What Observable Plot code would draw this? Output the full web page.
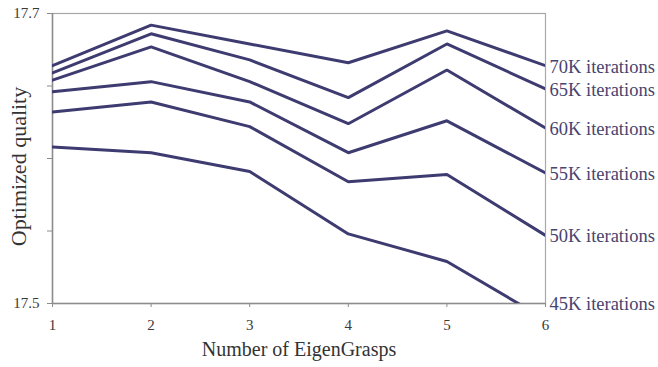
<!DOCTYPE html>
<html>
<head>
<meta charset="utf-8">
<script src="https://cdn.jsdelivr.net/npm/d3@7"></script>
<script src="https://cdn.jsdelivr.net/npm/@observablehq/plot@0.6"></script>
<style>
  html, body { margin: 0; padding: 0; background: #fff; }
</style>
</head>
<body>
<div id="chart"></div>
<script>
const eigenGrasps = [1, 2, 3, 4, 5, 6];
const seriesNames = ["70K iterations", "65K iterations", "60K iterations", "55K iterations", "50K iterations", "45K iterations"];
const q70K = [17.664, 17.692, 17.679, 17.666, 17.688, 17.664];
const q65K = [17.659, 17.686, 17.668, 17.642, 17.679, 17.648];
const q60K = [17.654, 17.677, 17.653, 17.624, 17.661, 17.621];
const q55K = [17.646, 17.653, 17.639, 17.604, 17.626, 17.590];
const q50K = [17.632, 17.639, 17.622, 17.584, 17.589, 17.547];
const q45K = [17.608, 17.604, 17.591, 17.548, 17.529, 17.489];
const yTicks = [17.5, 17.55, 17.6, 17.65, 17.7];
const yTickLabels = [17.5, 17.7];
const xTicks = [1, 2, 3, 4, 5, 6];

const allSeries = [q70K, q65K, q60K, q55K, q50K, q45K];
const data = [];
allSeries.forEach((vals, i) => vals.forEach((v, j) => data.push({x: eigenGrasps[j], y: v, s: seriesNames[i]})));
const yMin = 17.5, yMax = 17.7;
const ends = allSeries.map((vals, i) => ({x: eigenGrasps[eigenGrasps.length - 1], y: Math.max(vals[vals.length - 1], yMin), s: seriesNames[i]}));

const chart = Plot.plot({
  width: 658,
  height: 367,
  marginLeft: 52,
  marginRight: 113,
  marginTop: 13,
  marginBottom: 64,
  style: {fontFamily: "'Liberation Serif', 'Times New Roman', serif", fontSize: "15px", color: "#333", background: "#fff"},
  x: {domain: [1, 6]},
  y: {domain: [yMin, yMax]},
  marks: [
    Plot.frame({stroke: "#a8a8a8", strokeWidth: 1.2}),
    Plot.ruleX([1], {stroke: "#8c8c8c", strokeWidth: 1.5}),
    Plot.ruleY([yMin], {stroke: "#8c8c8c", strokeWidth: 1.5}),
    Plot.axisY({ticks: yTicks, tickSize: 5, tickPadding: 8, stroke: "#8c8c8c", fill: "#3a3a3a", fontSize: 15, label: null,
      tickFormat: d => yTickLabels.some(t => Math.abs(t - d) < 1e-9) ? d.toFixed(1) : ""}),
    Plot.axisX({ticks: xTicks, tickSize: 4, tickPadding: 12, stroke: "#8c8c8c", fill: "#3a3a3a", fontSize: 15, label: null, tickFormat: d => String(d)}),
    Plot.line(data, {x: "x", y: "y", z: "s", stroke: "#3e3b70", strokeWidth: 3, clip: true, strokeLinejoin: "miter"}),
    Plot.text(ends, {x: "x", y: "y", text: "s", textAnchor: "start", dx: 4, dy: 1, fill: "#47446f", fontSize: 18.5}),
    Plot.text(["Number of EigenGrasps"], {frameAnchor: "bottom", dy: 52, fontSize: 20, fill: "#333"}),
    Plot.text(["Optimized quality"], {frameAnchor: "left", textAnchor: "middle", dx: -34, dy: 8, rotate: -90, fontSize: 22, fill: "#333"})
  ]
});
document.getElementById("chart").appendChild(chart);
</script>
</body>
</html>
